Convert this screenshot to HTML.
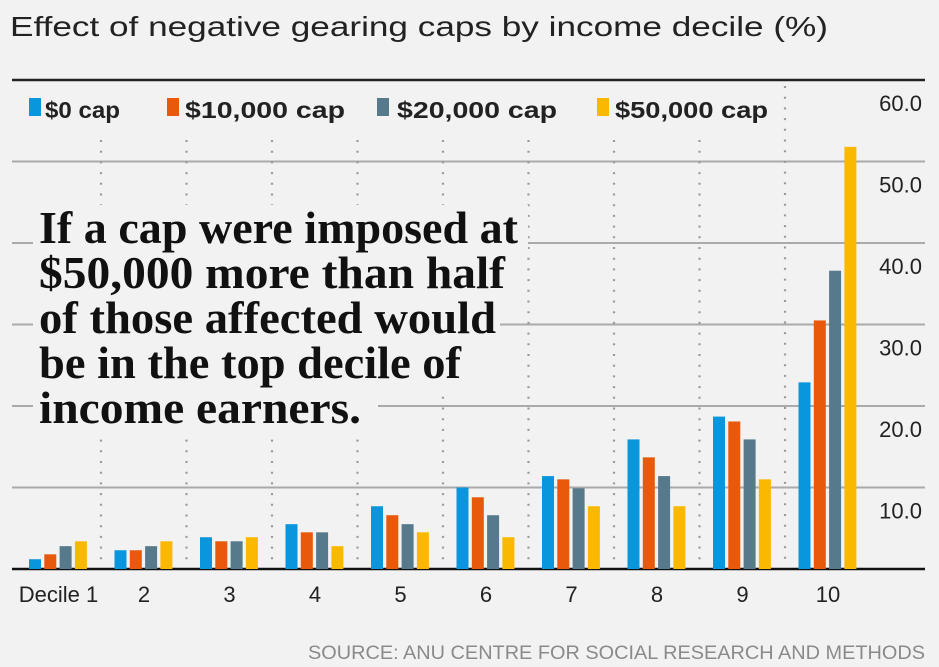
<!DOCTYPE html>
<html><head><meta charset="utf-8"><style>
html,body{margin:0;padding:0;background:#f2f2f2;}
svg{display:block;}
</style></head><body>
<svg id="chart" width="939" height="667" xmlns="http://www.w3.org/2000/svg" font-family="Liberation Sans, sans-serif">
<rect width="939" height="667" fill="#f2f2f2"/>
<text x="10" y="36" font-size="28" fill="#222" textLength="818" lengthAdjust="spacingAndGlyphs">Effect of negative gearing caps by income decile (%)</text>
<g id="grid"></g>
<g id="seps"></g>
<g id="bars"></g>
<g id="annot"></g>
<g id="legend"></g>
<g id="ylabels"></g>
<g id="xlabels"></g>
<text x="925" y="659" font-size="19" fill="#8a8a8a" text-anchor="end" textLength="617" lengthAdjust="spacingAndGlyphs">SOURCE: ANU CENTRE FOR SOCIAL RESEARCH AND METHODS</text>
</svg>
<script>
const categories = ["Decile 1","2","3","4","5","6","7","8","9","10"];
const seriesNames = ["$0 cap","$10,000 cap","$20,000 cap","$50,000 cap"];
const cap0 = [1.2,2.3,3.9,5.5,7.7,10.0,11.4,15.9,18.7,22.9];
const cap10k = [1.8,2.3,3.4,4.5,6.6,8.8,11.0,13.7,18.1,30.5];
const cap20k = [2.8,2.8,3.4,4.5,5.5,6.6,9.9,11.4,15.9,36.6];
const cap50k = [3.4,3.4,3.9,2.8,4.5,3.9,7.7,7.7,11.0,51.8];
const yTicks = [10,20,30,40,50,60];
const yTickLabels = ["10.0","20.0","30.0","40.0","50.0","60.0"];
const annotationLines = ["If a cap were imposed at","$50,000 more than half","of those affected would","be in the top decile of","income earners."];

const NS="http://www.w3.org/2000/svg";
const colors=["#0a96dc","#e8590c","#56798c","#fbb800"];
const series=[cap0,cap10k,cap20k,cap50k];
const y0=569, yTop=80, yMax=60;
function yScale(v){return y0-(v/yMax)*(y0-yTop);}
const groupStart=15.5, groupStep=85.5;
function xGroup(i){return groupStart+i*groupStep;}
function mk(tag,attrs,parent){const e=document.createElementNS(NS,tag);for(const k in attrs)e.setAttribute(k,attrs[k]);parent.appendChild(e);return e;}

const grid=document.getElementById('grid');
yTicks.forEach((t,i)=>{
  const y=yScale(t);
  const l=mk('line',{x1:12,x2:925,y1:y,y2:y,stroke:t===60?'#222':'#aaa','stroke-width':t===60?2.5:2},grid);
  
  
});
const base=mk('line',{x1:12,x2:925,y1:y0,y2:y0,stroke:'#111','stroke-width':2.5},grid);



const seps=document.getElementById('seps');
for(let i=1;i<categories.length;i++){
  const x=xGroup(i);
  const top=(i===9)?86:140;
  const l=mk('line',{x1:x,x2:x,y1:top,y2:566,stroke:'#9a9a9a','stroke-width':2.2,'stroke-dasharray':'2 8.7'},seps);
  
  
}

const bars=document.getElementById('bars');
categories.forEach((c,i)=>{
  series.forEach((s,j)=>{
    const x=xGroup(i)+13.5+j*15.3;
    const y=yScale(s[i]);
    const r=mk('rect',{x:x,y:y,width:12,height:y0-y,fill:colors[j]},bars);
    
    
  });
});

const annot=document.getElementById('annot');
const lineRight=[518,505,496,461,361];
const coverRight=[528,512,500,470,378];
annotationLines.forEach((t,i)=>{
  const yb=243+i*45;
  const r=mk('rect',{x:33,y:yb-38,width:coverRight[i]-33,height:50,fill:'#f2f2f2'},annot);
  
  
});
annotationLines.forEach((t,i)=>{
  const yb=243+i*45;
  const tx=mk('text',{x:39,y:yb,'font-family':'Liberation Serif, serif','font-weight':'bold','font-size':46,fill:'#111',textLength:lineRight[i]-39,lengthAdjust:'spacingAndGlyphs'},annot);
  tx.textContent=t;
  
  
});

const legend=document.getElementById('legend');
const legX=[29,167,377,597], legTextX=[45,185,397,615], legW=[75,160,160,153];
seriesNames.forEach((n,j)=>{
  const sw=mk('rect',{x:legX[j],y:98,width:12,height:18,fill:colors[j]},legend);
  
  
  const tx=mk('text',{x:legTextX[j],y:118,'font-size':23,'font-weight':'bold',fill:'#222',textLength:legW[j],lengthAdjust:'spacingAndGlyphs'},legend);
  tx.textContent=n;
  
  
});

const yl=document.getElementById('ylabels');
yTicks.forEach((t,i)=>{
  const tx=mk('text',{x:922,y:yScale(t)+31,'font-size':22,fill:'#222','text-anchor':'end'},yl);
  tx.textContent=yTickLabels[i];
  
  
});

const xl=document.getElementById('xlabels');
categories.forEach((c,i)=>{
  const tx=mk('text',{x:xGroup(i)+43,y:602,'font-size':22,fill:'#222','text-anchor':'middle'},xl);
  tx.textContent=c;
  
  
});
</script>
</body></html>
